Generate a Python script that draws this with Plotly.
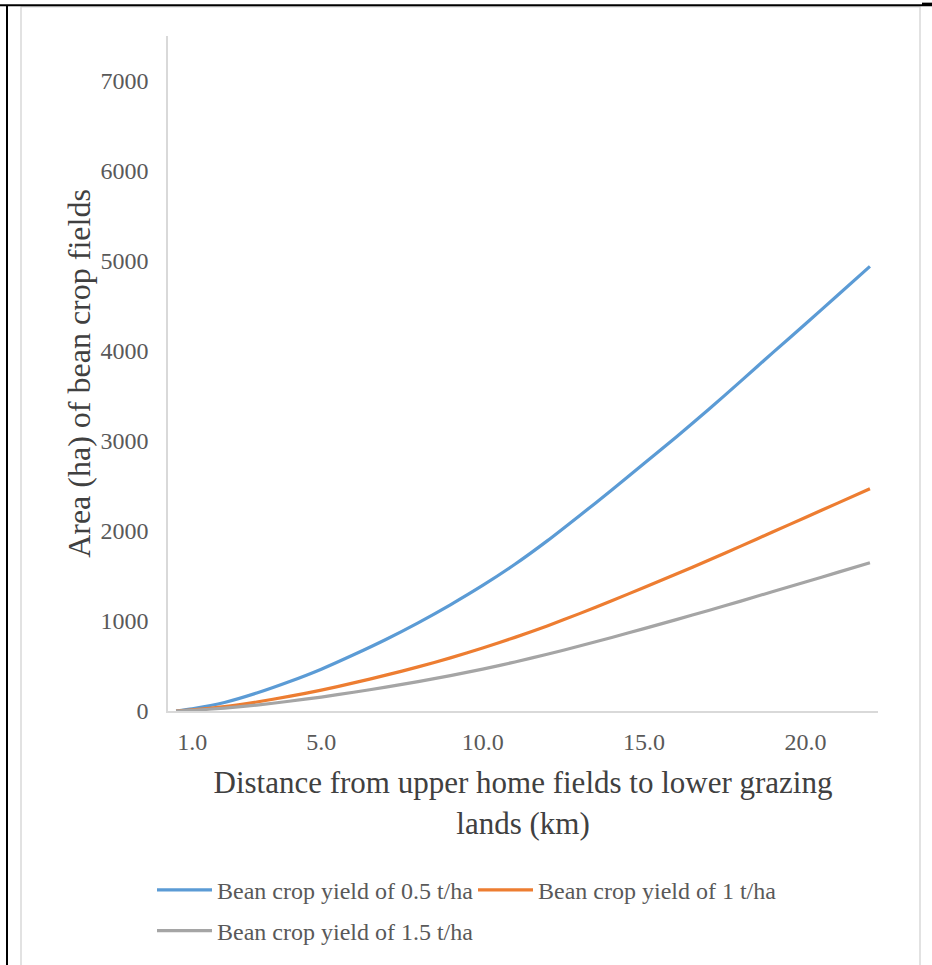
import plotly.graph_objects as go

# distance (km) and area (ha)
distance_km = [0.5, 1, 2, 3, 4, 5, 6, 7, 8, 9, 10, 11, 12, 13, 14, 15, 16, 17, 18, 19, 20, 21, 22]
area_yield_05 = [0, 25, 95, 200, 325, 465, 625, 795, 980, 1180, 1395, 1630, 1890, 2170, 2455, 2750, 3045, 3350, 3665, 3985, 4300, 4620, 4940]
area_yield_10 = [0, 12, 48, 100, 162, 232, 312, 398, 490, 590, 700, 818, 945, 1082, 1225, 1373, 1522, 1675, 1832, 1992, 2150, 2310, 2470]
area_yield_15 = [0, 8, 32, 66, 108, 155, 208, 265, 327, 393, 465, 545, 630, 722, 817, 915, 1015, 1117, 1221, 1328, 1433, 1540, 1648]

series_names = ["Bean crop yield of 0.5 t/ha", "Bean crop yield of 1 t/ha", "Bean crop yield of 1.5 t/ha"]
series_colors = ["#5b9bd5", "#ed7d31", "#a5a5a5"]
series_legends = ["legend", "legend", "legend2"]

x_tickvals = [1, 5, 10, 15, 20]
x_ticktext = ["1.0", "5.0", "10.0", "15.0", "20.0"]
y_tickvals = [0, 1000, 2000, 3000, 4000, 5000, 6000, 7000]

FONT = "Liberation Serif"
W, H = 932, 965
L, R, T, B = 168, 878, 36, 714


def px_x(p):
    return (p - L) / (R - L)


def px_y(p):
    return (B - p) / (B - T)


fig = go.Figure()
for name, vals, col, lg in zip(series_names, [area_yield_05, area_yield_10, area_yield_15], series_colors, series_legends):
    fig.add_trace(go.Scatter(x=distance_km, y=vals, mode="lines", name=name, legend=lg,
                             line=dict(color=col, width=3.2, shape="spline", smoothing=0.6)))

# page / table borders around the chart
border = "#d9d9d9"
fig.add_shape(type="line", xref="paper", yref="paper", x0=px_x(21), x1=px_x(21), y0=px_y(6), y1=px_y(970),
              line=dict(color=border, width=1.5))
fig.add_shape(type="line", xref="paper", yref="paper", x0=px_x(920), x1=px_x(920), y0=px_y(6), y1=px_y(970),
              line=dict(color=border, width=1.5))
fig.add_shape(type="line", xref="paper", yref="paper", x0=px_x(21), x1=px_x(920), y0=px_y(6.5), y1=px_y(6.5),
              line=dict(color=border, width=1.5))
fig.add_shape(type="line", xref="paper", yref="paper", x0=px_x(0), x1=px_x(932), y0=px_y(5), y1=px_y(5),
              line=dict(color="black", width=2))
fig.add_shape(type="line", xref="paper", yref="paper", x0=px_x(922), x1=px_x(932), y0=px_y(4), y1=px_y(4),
              line=dict(color="black", width=3))
fig.add_shape(type="line", xref="paper", yref="paper", x0=px_x(7), x1=px_x(7), y0=px_y(5), y1=px_y(970),
              line=dict(color="black", width=2))

legend_style = dict(orientation="h", xanchor="left", yanchor="middle",
                    font=dict(family=FONT, size=24, color="#595959"), itemwidth=55,
                    entrywidth=251, entrywidthmode="pixels", bgcolor="rgba(0,0,0,0)")

fig.update_layout(
    width=W, height=H,
    margin=dict(l=L, r=W - R, t=T, b=H - B),
    paper_bgcolor="white", plot_bgcolor="white",
    font=dict(family=FONT, size=24, color="#595959"),
    showlegend=True,
    legend=dict(x=px_x(152), y=px_y(894), **legend_style),
    legend2=dict(x=px_x(152), y=px_y(935), **legend_style),
    xaxis=dict(range=[0.25, 22.25], tickvals=x_tickvals, ticktext=x_ticktext,
               showgrid=False, zeroline=False, showline=True, linecolor=border, linewidth=1.5,
               ticks="", ticklabelstandoff=8, tickfont=dict(family=FONT, size=24, color="#595959"),
               title=dict(text="Distance from upper home fields to lower grazing<br>lands (km)",
                          font=dict(family=FONT, size=31, color="#404040"), standoff=18)),
    yaxis=dict(range=[0, 7500], tickvals=y_tickvals,
               showgrid=False, zeroline=False, showline=True, linecolor=border, linewidth=1.5,
               ticks="", ticklabelstandoff=13, tickfont=dict(family=FONT, size=24, color="#595959"),
               title=dict(text="Area (ha) of bean crop fields",
                          font=dict(family=FONT, size=32, color="#404040"), standoff=0)),
)

fig.write_html("out.html", config={"displayModeBar": False},
               post_script="document.body.style.margin='0px';")
